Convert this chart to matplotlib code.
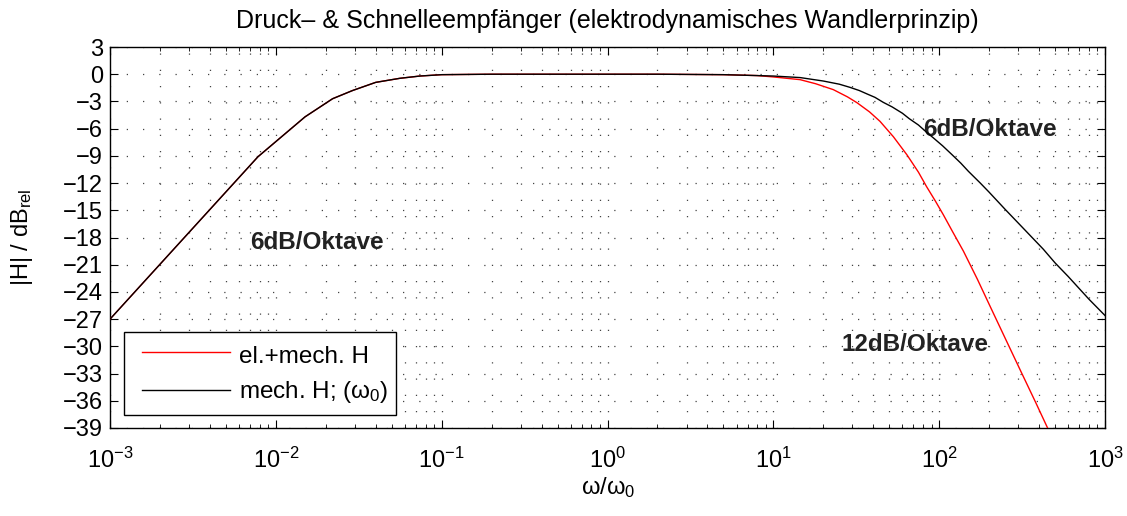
import matplotlib
matplotlib.use("Agg")
import matplotlib.pyplot as plt
from matplotlib.ticker import LogLocator, NullFormatter
from matplotlib.patches import Rectangle
from matplotlib.lines import Line2D

plt.rcParams['font.family'] = ['Liberation Sans', 'DejaVu Sans']
plt.rcParams['mathtext.fontset'] = 'custom'
plt.rcParams['mathtext.rm'] = 'Liberation Sans'
plt.rcParams['mathtext.it'] = 'Liberation Sans'
plt.rcParams['axes.unicode_minus'] = True

# --- data ---
w_mech = [1e-3, 7.8e-3, 1.5e-2, 2.2e-2, 2.9e-2, 4.0e-2, 5.6e-2, 7.4e-2, 0.1, 0.2,
          0.5, 1, 2, 5, 8, 10, 14.5, 20, 25, 29, 33, 37, 41, 46, 52, 60, 66, 75, 84,
          92, 105, 120, 135, 150, 177, 200, 250, 330, 425, 500, 600, 800, 1000]
db_mech = [-27, -9.1, -4.7, -2.7, -1.8, -0.9, -0.45, -0.2, -0.05, 0,
           0, 0, 0, -0.05, -0.15, -0.2, -0.37, -0.75, -1.1, -1.45, -1.8, -2.2, -2.55, -3.1, -3.6, -4.3, -4.9, -5.6, -6.4,
           -7.0, -7.9, -8.9, -9.8, -10.7, -12.0, -13.0, -14.9, -17.2, -19.3, -20.8, -22.3, -24.8, -26.6]

w_el = [1e-3, 7.8e-3, 1.5e-2, 2.2e-2, 2.9e-2, 4.0e-2, 5.6e-2, 7.4e-2, 0.1, 0.2,
        0.5, 1, 2, 5, 8, 10, 14.5, 18, 23, 28, 32, 38, 44, 53, 64, 75, 84, 95,
        106, 120, 140, 170, 203, 250, 308, 380, 456, 500]
db_el = [-27, -9.1, -4.7, -2.7, -1.8, -0.9, -0.45, -0.2, -0.05, 0,
         0, 0, 0, -0.05, -0.15, -0.3, -0.6, -1.05, -1.7, -2.5, -3.15, -4.15, -5.2, -6.9, -8.9, -10.8, -12.4, -14.0,
         -15.5, -17.3, -19.5, -22.6, -25.6, -29.1, -32.6, -36.1, -39.2, -40.8]

y_ticks = list(range(-39, 4, 3))
x_ticks = [1e-3, 1e-2, 1e-1, 1, 10, 100, 1000]
x_ticklabels = [r'$10^{-3}$', r'$10^{-2}$', r'$10^{-1}$', r'$10^{0}$', r'$10^{1}$', r'$10^{2}$', r'$10^{3}$']
legend_labels = ['el.+mech. H', r'mech. H; ($\omega_0$)']
colors = ['#ff0000', 'black']

FS = 17

fig = plt.figure(figsize=(11.27, 5.16), dpi=100)
ax = fig.add_axes([110/1127, 1 - 428/516, 995/1127, 381/516])

ax.plot(w_el, db_el, color=colors[0], lw=1.0, zorder=3)
ax.plot(w_mech, db_mech, color=colors[1], lw=1.0, zorder=4)

ax.set_xscale('log')
ax.set_xlim(1e-3, 1e3)
ax.set_ylim(-39, 3)
ax.set_yticks(y_ticks)
ax.set_yticklabels([str(v).replace('-', '\u2212') for v in y_ticks])
ax.set_xticks(x_ticks)
ax.set_xticklabels(x_ticklabels)
ax.xaxis.set_minor_locator(LogLocator(base=10, subs=range(2, 10), numticks=20))
ax.xaxis.set_minor_formatter(NullFormatter())

ax.tick_params(which='both', direction='in', top=True, right=True, labelsize=FS, colors='black')
ax.tick_params(which='major', length=6, width=0.8)
ax.tick_params(axis='y', which='major', pad=5)
ax.tick_params(axis='x', which='major', pad=14)
ax.tick_params(which='minor', length=3, width=0.6)
for s in ax.spines.values():
    s.set_linewidth(1.0)

grid_kw = dict(color='#444444', linewidth=0.9, linestyle=(0, (1, 12)))
ax.grid(True, which='major', axis='both', **grid_kw)
ax.grid(True, which='minor', axis='x', **grid_kw)

ax.set_title('Druck\u2013 & Schnelleempf\u00e4nger (elektrodynamisches Wandlerprinzip)', fontsize=18, pad=14)
ax.set_xlabel(r'$\omega/\omega_0$', fontsize=FS, labelpad=2)
ax.set_ylabel(r'|H| / dB$_{\mathrm{rel}}$', fontsize=FS, labelpad=20)

ax.text(0.0177, -18.5, '6dB/Oktave', fontsize=17.5, fontweight='bold', ha='center', va='center', color='#222222')
ax.text(203, -6.1, '6dB/Oktave', fontsize=17.5, fontweight='bold', ha='center', va='center', color='#222222')
ax.text(71.7, -29.8, '12dB/Oktave', fontsize=17.5, fontweight='bold', ha='center', va='center', color='#222222')

# legend box drawn MATLAB-style in axes coordinates
T = ax.transAxes
ax.add_patch(Rectangle((0.0141, 0.0341), 0.2733, 0.2187, transform=T, facecolor='white',
                       edgecolor='black', linewidth=1.0, zorder=10))
row_y = [0.1995, 0.0997]
base_y = [0.1706, 0.0787]
for lab, c, ly, by in zip(legend_labels, colors, row_y, base_y):
    ax.add_line(Line2D([0.0318, 0.1206], [ly, ly], transform=T, color=c, lw=1.0, zorder=11))
    ax.text(0.1296, by, lab, transform=T, fontsize=17.5, ha='left', va='baseline', zorder=11)

fig.savefig('out.png', dpi=100)
